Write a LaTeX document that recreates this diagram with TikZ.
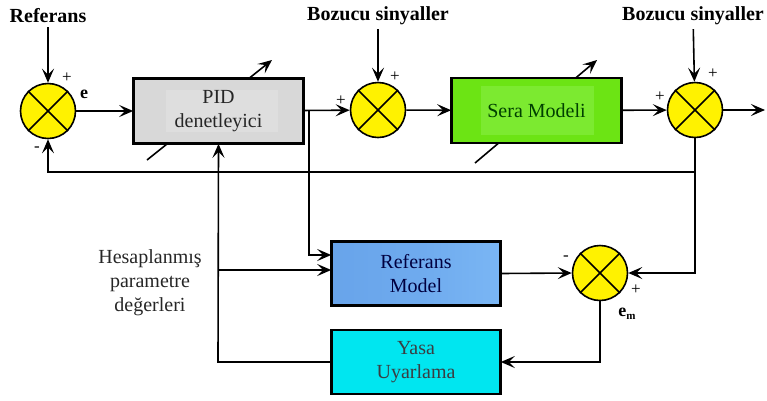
\documentclass[tikz,border=0pt]{standalone}
\usepackage{fontspec}
\setmainfont{Liberation Serif}
\usetikzlibrary{arrows.meta}
\definecolor{sumy}{HTML}{FFF200}
\definecolor{pidg}{HTML}{D8D8D8}
\definecolor{pidi}{HTML}{DEDEDE}
\definecolor{seragr}{HTML}{6CE414}
\definecolor{serai}{HTML}{7CEA30}
\definecolor{refb}{HTML}{6EAAEE}
\definecolor{refbl}{HTML}{68A4EA}
\definecolor{refbr}{HTML}{7AB6F4}
\definecolor{yasac}{HTML}{00E6F0}
\begin{document}
\begin{tikzpicture}[x=1pt,y=-1pt,
  font=\fontsize{20}{24}\selectfont,
  >={Stealth[length=14pt,width=12pt,inset=6pt]},
  line width=1.6pt,
  sumnode/.style={circle,draw,fill=sumy,minimum size=55pt,inner sep=0pt},
  blk/.style={draw,minimum width=168pt,minimum height=63pt,align=center,inner sep=0pt},
  lbl/.style={font=\fontsize{20}{24}\selectfont\bfseries},
  sgn/.style={font=\fontsize{17}{18}\selectfont}
]
\useasboundingbox (0,0) rectangle (767,400);

% sum junctions
\node[sumnode] (s1) at (48,111) {};
\node[sumnode] (s2) at (378,110) {};
\node[sumnode] (s3) at (695,110) {};
\node[sumnode] (s4) at (600,273) {};
\foreach \s in {s1,s2,s3,s4}{
  \draw (\s.north west) -- (\s.south east);
  \draw (\s.north east) -- (\s.south west);
}

% adjustable arrows behind boxes
\draw[->] (147,160) -- (272,60);
\draw[->] (475,163) -- (597,60);

% blocks
\node[blk,fill=pidg,minimum width=169pt,minimum height=64pt] (pid) at (218.5,111) {};
\fill[pidi] (166,90) rectangle (278,132);
\node[align=center,text=black!85] at (218.5,111) {PID\\denetleyici};

\node[blk,fill=seragr,minimum width=169pt,minimum height=64pt] (sera) at (536.5,110.5) {};
\fill[serai] (481,86) rectangle (594,135);
\node[text=green!25!black] at (536.5,110.5) {Sera Modeli};

\node[blk,left color=refbl,right color=refbr,middle color=refb] (ref) at (416,273.5) {};
\node[align=center,text=blue!25!black] at (416,273.5) {Referans\\Model};

\node[blk,fill=yasac] (yasa) at (416,362) {};
\node[align=center,text=cyan!15!black] at (416,362) {Yasa\\Uyarlama};

% redraw borders
\draw (pid.north west) rectangle (pid.south east);
\draw (sera.north west) rectangle (sera.south east);
\draw (ref.north west) rectangle (ref.south east);
\draw (yasa.north west) rectangle (yasa.south east);

% labels
\node[lbl] (lref) at (48,16) {Referans};
\node[lbl] (lb1) at (378,16) {Bozucu sinyaller};
\node[lbl] (lb2) at (693,16) {Bozucu sinyaller};
\node[align=center,font=\fontsize{20}{24}\selectfont,text=black!85] (hes) at (150,283) {Hesaplanmış\\parametre\\değerleri};

% signs
\node[sgn] at (67,78) {+};
\node[lbl,font=\fontsize{18}{20}\selectfont\bfseries] at (84,94) {e};
\node[sgn] at (37,149) {-};
\node[sgn] at (395,77) {+};
\node[sgn] at (341,101) {+};
\node[sgn] at (713,74) {+};
\node[sgn] at (660,97) {+};
\node[sgn] at (566,258) {-};
\node[sgn] at (636,290) {+};
\node at (627,314) {\fontsize{18}{20}\selectfont\bfseries e\raisebox{-3pt}{\fontsize{11}{12}\selectfont m}};

% main path connectors
\draw[->] (lref) -- (s1);
\draw[->] (lb1) -- (s2);
\draw[->] (lb2) -- (s3);
\draw[->] (s1) -- (pid);
\draw[->] (pid) -- (s2);
\draw[->] (s2) -- (sera);
\draw[->] (sera) -- (s3);
\coordinate (out) at (765,110);
\draw[->] (s3) -- (out);

% feedback
\coordinate (fb) at (695,172);
\draw[->] (s3.south) -- (fb) -- (48,172) -- (s1.south);
\draw[->] (fb) |- (s4.east);

% pid output branch to reference model
\coordinate (br) at (309,111);
\draw[->] (br) -- (309,255) -- (ref.west |- 0,255);

% adaptation loop
\draw[->] (s4.south) |- (yasa.east);
\draw[->] (yasa.west) -- (218,362) -- (pid.south);
\draw[->] (218,270) -- (ref.west |- 0,270);
\draw[->] (ref.east) -- (s4.west);
\end{tikzpicture}
\end{document}
